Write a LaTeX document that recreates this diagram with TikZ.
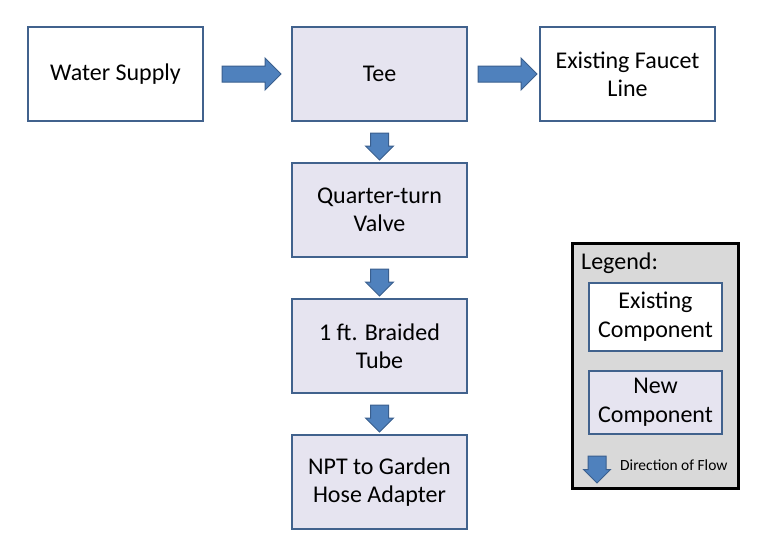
\documentclass[tikz,border=0pt]{standalone}
\usepackage{fontspec}
\setmainfont{Carlito}
\usetikzlibrary{shapes.arrows,calc}
\definecolor{boxline}{HTML}{41628D}
\definecolor{newfill}{HTML}{E6E4F0}
\definecolor{arrfill}{HTML}{4F81BD}
\definecolor{arrline}{HTML}{3A5F8E}
\definecolor{legfill}{HTML}{D9D9D9}
\tikzset{
  comp/.style={draw=boxline, line width=2pt, minimum width=175pt, minimum height=94pt, align=center, font=\fontsize{24}{28}\selectfont, inner sep=0pt},
  oldcomp/.style={comp, fill=white},
  newcomp/.style={comp, fill=newfill},
  flowbase/.style={single arrow, draw=arrline, fill=arrfill, line width=1pt, inner sep=7.5pt, single arrow tip angle=90},
  flowright/.style={flowbase, minimum height=59pt, single arrow head extend=8pt},
  flowdown/.style={flowbase, minimum height=27pt, inner sep=8.5pt, single arrow head extend=5pt, shape border rotate=270},
  legendbox/.style={draw=black, line width=3pt, fill=legfill, minimum width=166pt, minimum height=245pt, inner sep=0pt},
  legtext/.style={font=\fontsize{24}{28}\selectfont, inner sep=0pt},
  smalltext/.style={font=\fontsize{15.5}{18}\selectfont, inner sep=0pt}
}
\begin{document}
\begin{tikzpicture}[x=1pt,y=-1pt]
\useasboundingbox[fill=white] (0,0) rectangle (766,554);
\node[oldcomp] (ws) at (115.5,74) {Water Supply};
\node[newcomp] (tee) at (379.5,74) {Tee};
\node[oldcomp] (fl) at (627.5,74) {Existing Faucet\\Line};
\node[newcomp] (qv) at (379.5,210) {Quarter-turn\\Valve};
\node[newcomp] (bt) at (379.5,346) {1 ft. Braided\\Tube};
\node[newcomp] (npt) at (379.5,482) {NPT to Garden\\Hose Adapter};
\node[flowright] (a1) at ($(ws.east)!0.5!(tee.west)$) {};
\node[flowright] (a2) at ($(tee.east)!0.5!(fl.west)$) {};
\node[flowdown] (a3) at ($(tee.south)!0.5!(qv.north)$) {};
\node[flowdown] (a4) at ($(qv.south)!0.5!(bt.north)$) {};
\node[flowdown] (a5) at ($(bt.south)!0.5!(npt.north)$) {};
\node[legendbox] (leg) at (655.5,366) {};
\node[legtext, anchor=west] (legt) at (581,263) {Legend:};
\node[comp, fill=white, minimum width=133pt, minimum height=68pt, font=\fontsize{24}{29}\selectfont] (lex) at (655.5,317) {Existing\\Component};
\node[comp, fill=newfill, minimum width=133pt, minimum height=63pt, font=\fontsize{24}{29}\selectfont] (lnew) at (655.5,402.5) {New\\Component};
\node[flowdown, minimum height=26pt, single arrow head extend=4.5pt] (la) at (597,465) {};
\node[smalltext, anchor=west] (lat) at (620,465) {Direction of Flow};
\end{tikzpicture}
\end{document}
